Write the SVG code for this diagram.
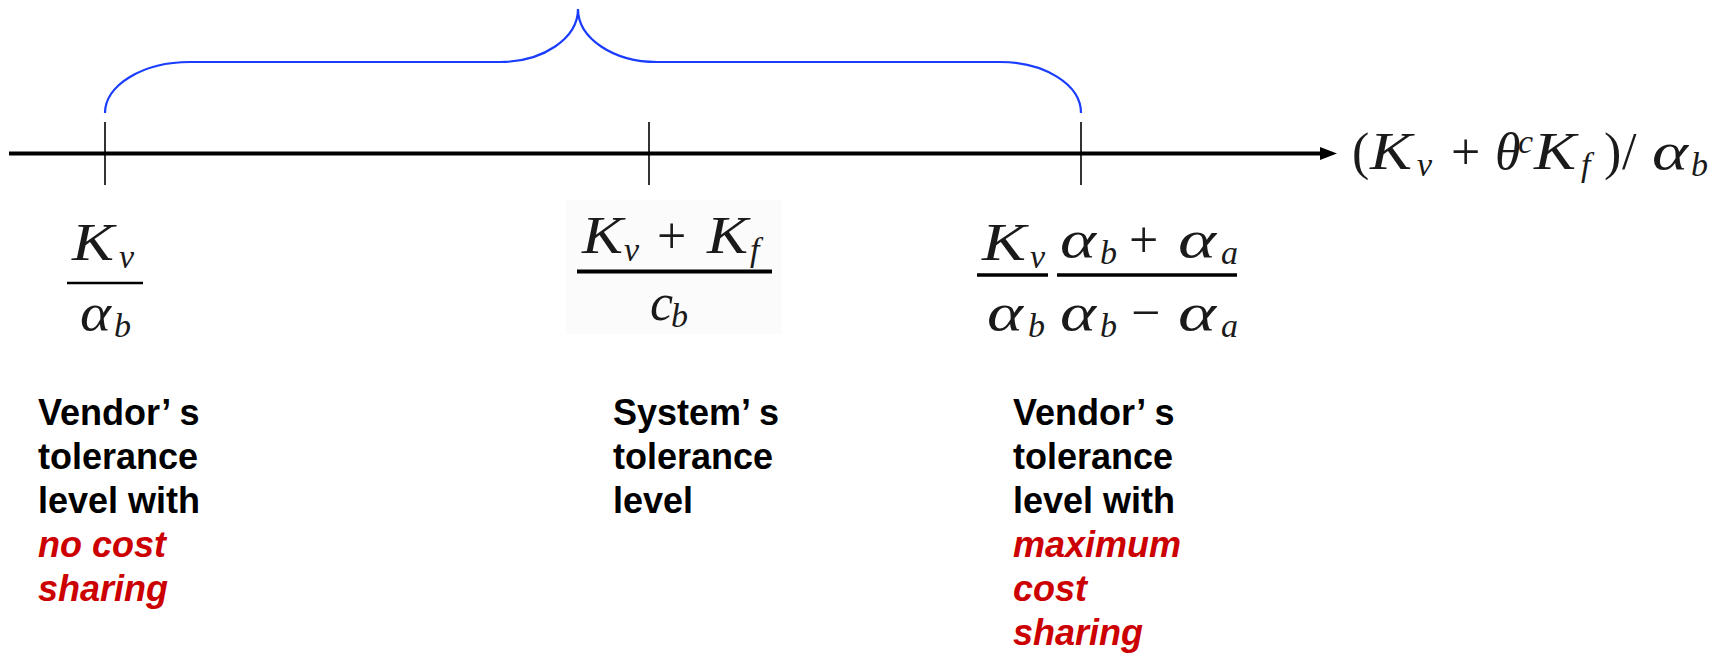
<svg xmlns="http://www.w3.org/2000/svg" width="1722" height="656" viewBox="0 0 1722 656">
  <style>
    .lbl { font-family: "Liberation Sans", Arial, sans-serif; font-weight: bold; font-size: 36px; fill: #000; }
    .red { fill: #cc0000; font-style: italic; }
    .m { font-family: "Liberation Serif", "Times New Roman", serif; font-size: 52px; fill: #1a1a1a; }
    .mi { font-family: "Liberation Serif", "Times New Roman", serif; font-size: 52px; font-style: italic; fill: #1a1a1a; }
    .sb { font-family: "Liberation Serif", "Times New Roman", serif; font-size: 34px; font-style: italic; fill: #1a1a1a; }
    .tick { stroke: #000; stroke-width: 1.6; }
    .bar { stroke: #000; }
    .brace { fill: none; stroke: #1a3cff; stroke-width: 2.2; }
  </style>
  <defs>
    <marker id="arrow" viewBox="0 0 17 13" refX="2" refY="6.5" markerWidth="17" markerHeight="13" markerUnits="userSpaceOnUse" orient="auto">
      <path d="M0,0 L17,6.5 L0,13 Z" fill="#000"/>
    </marker>
  </defs>
  <rect width="1722" height="656" fill="#fff"/>

  <g id="connectors">
    <line x1="9" y1="153.5" x2="1322" y2="153.5" stroke="#000" stroke-width="4" marker-end="url(#arrow)"/>
  </g>

  <g id="brace">
    <path class="brace" d="M105,113 A85,51 0 0 1 190,62 L500,62 A78,53 0 0 0 578,9 A79,53 0 0 0 657,62 L1000,62 A81,51 0 0 1 1081,113"/>
  </g>

  <g id="ticks">
    <line class="tick" x1="105" y1="122" x2="105" y2="185"/>
    <line class="tick" x1="649" y1="122" x2="649" y2="185"/>
    <line class="tick" x1="1081" y1="122" x2="1081" y2="185"/>
  </g>

  <g id="axis-label">
    <text class="m" x="1352" y="169" font-size="48">(</text>
    <text class="mi" x="1370" y="169" font-size="48" textLength="42" lengthAdjust="spacingAndGlyphs">K</text>
    <text class="sb" x="1417" y="176" font-size="32">v</text>
    <text class="m" x="1451" y="169" font-size="48">+</text>
    <text class="mi" x="1495" y="169" font-size="48">θ</text>
    <text class="sb" x="1518" y="153" font-size="30">c</text>
    <text class="mi" x="1534" y="169" font-size="48" textLength="42" lengthAdjust="spacingAndGlyphs">K</text>
    <text class="sb" x="1581" y="176" font-size="32">f</text>
    <text class="m" x="1604" y="169" font-size="48">)</text>
    <text class="m" x="1622" y="169" font-size="48">/</text>
    <text class="mi" x="1652" y="169" font-size="48" textLength="36" lengthAdjust="spacingAndGlyphs">α</text>
    <text class="sb" x="1691" y="176" font-size="32">b</text>
  </g>

  <g id="node-no-cost-sharing">
    <text class="mi" x="72" y="260" textLength="42" lengthAdjust="spacingAndGlyphs">K</text>
    <text class="sb" x="119" y="268">v</text>
    <line class="bar" x1="67" y1="283" x2="143" y2="283" stroke-width="2.6"/>
    <text class="mi" x="80" y="330" textLength="31" lengthAdjust="spacingAndGlyphs">α</text>
    <text class="sb" x="114" y="337">b</text>
    <text class="lbl">
      <tspan x="38" y="425">Vendor’ s</tspan>
      <tspan x="38" y="469">tolerance</tspan>
      <tspan x="38" y="513">level with</tspan>
      <tspan class="red" x="38" y="557">no cost</tspan>
      <tspan class="red" x="38" y="601">sharing</tspan>
    </text>
  </g>

  <g id="node-system">
    <rect x="566" y="200" width="216" height="134" fill="#fbfbfb"/>
    <text class="mi" x="582" y="253" textLength="41" lengthAdjust="spacingAndGlyphs">K</text>
    <text class="sb" x="624" y="261">v</text>
    <text class="m" x="657" y="253">+</text>
    <text class="mi" x="707" y="253" textLength="41" lengthAdjust="spacingAndGlyphs">K</text>
    <text class="sb" x="750" y="261">f</text>
    <line class="bar" x1="577" y1="271.5" x2="772" y2="271.5" stroke-width="4"/>
    <text class="mi" x="650" y="320">c</text>
    <text class="sb" x="671" y="327">b</text>
    <text class="lbl">
      <tspan x="613" y="425">System’ s</tspan>
      <tspan x="613" y="469">tolerance</tspan>
      <tspan x="613" y="513">level</tspan>
    </text>
  </g>

  <g id="node-max-cost-sharing">
    <text class="mi" x="982" y="260" textLength="44" lengthAdjust="spacingAndGlyphs">K</text>
    <text class="sb" x="1030" y="268">v</text>
    <text class="mi" x="1060" y="257" textLength="36" lengthAdjust="spacingAndGlyphs">α</text>
    <text class="sb" x="1100" y="264">b</text>
    <text class="m" x="1129" y="257">+</text>
    <text class="mi" x="1178" y="257" textLength="38" lengthAdjust="spacingAndGlyphs">α</text>
    <text class="sb" x="1221" y="264">a</text>
    <line class="bar" x1="977" y1="275" x2="1048" y2="275" stroke-width="3.5"/>
    <line class="bar" x1="1057" y1="275" x2="1237" y2="275" stroke-width="3.5"/>
    <text class="mi" x="987" y="330" textLength="36" lengthAdjust="spacingAndGlyphs">α</text>
    <text class="sb" x="1028" y="337">b</text>
    <text class="mi" x="1060" y="330" textLength="36" lengthAdjust="spacingAndGlyphs">α</text>
    <text class="sb" x="1100" y="337">b</text>
    <text class="m" x="1131" y="330">−</text>
    <text class="mi" x="1178" y="330" textLength="38" lengthAdjust="spacingAndGlyphs">α</text>
    <text class="sb" x="1221" y="337">a</text>
    <text class="lbl">
      <tspan x="1013" y="425">Vendor’ s</tspan>
      <tspan x="1013" y="469">tolerance</tspan>
      <tspan x="1013" y="513">level with</tspan>
      <tspan class="red" x="1013" y="557">maximum</tspan>
      <tspan class="red" x="1013" y="601">cost</tspan>
      <tspan class="red" x="1013" y="645">sharing</tspan>
    </text>
  </g>
</svg>
